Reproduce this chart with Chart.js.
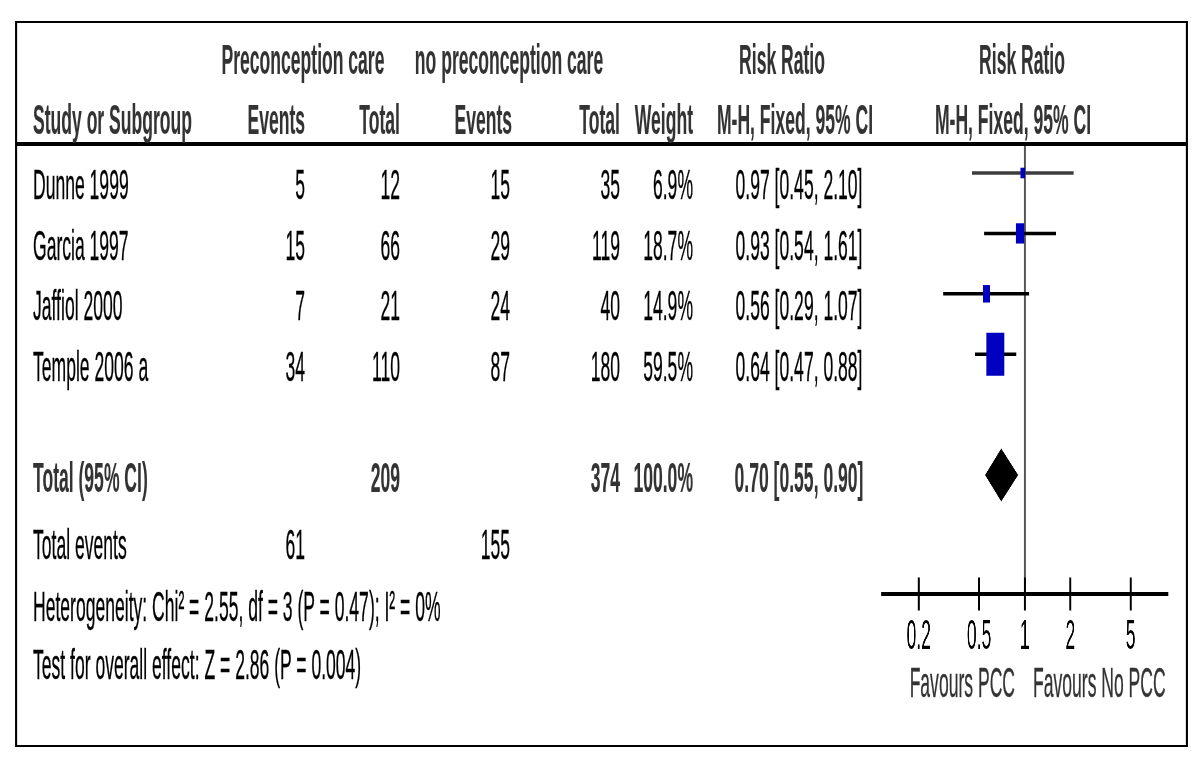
<!DOCTYPE html>
<html><head><meta charset="utf-8">
<script src="https://cdn.jsdelivr.net/npm/chart.js@4.4.1/dist/chart.umd.min.js"></script>
<style>
html,body{margin:0;padding:0;background:#fff;width:1200px;height:768px;overflow:hidden;}
#stage{position:absolute;left:0;top:0;width:2880px;height:768px;transform-origin:0 0;transform:scaleX(0.418);font-family:"Liberation Sans",Arial,sans-serif;}
.t{position:absolute;white-space:nowrap;font-size:42px;line-height:42px;color:#000;-webkit-text-stroke:0.35px currentColor;}
.b{font-weight:bold;color:#333;-webkit-text-stroke:0.15px currentColor;}
.ln{position:absolute;background:#000;}
#c{position:absolute;}
</style></head><body><div id="stage"><canvas id="c"></canvas></div>
<script>
// ---------- data ----------
const studies = ['Dunne 1999', 'Garcia 1997', 'Jaffiol 2000', 'Temple 2006 a'];
const pccEvents = [5, 15, 7, 34];
const pccTotal = [12, 66, 21, 110];
const noEvents = [15, 29, 24, 87];
const noTotal = [35, 119, 40, 180];
const weights = [6.9, 18.7, 14.9, 59.5];
const rr = [0.97, 0.93, 0.56, 0.64];
const rrLow = [0.45, 0.54, 0.29, 0.47];
const rrHigh = [2.10, 1.61, 1.07, 0.88];
const totalLabel = 'Total (95% CI)';
const totalN = [209, 374];
const totalWeight = 100.0;
const pooled = [0.70, 0.55, 0.90];
const totalEvents = [61, 155];
const heterogeneity = 'Heterogeneity: Chi² = 2.55, df = 3 (P = 0.47); I² = 0%';
const overallTest = 'Test for overall effect: Z = 2.86 (P = 0.004)';
const tickValues = [0.2, 0.5, 1, 2, 5];
const favours = ['Favours PCC', 'Favours No PCC'];
const groupHeaders = ['Preconception care', 'no preconception care', 'Risk Ratio', 'Risk Ratio'];
const colHeaders = ['Study or Subgroup', 'Events', 'Total', 'Events', 'Total', 'Weight', 'M-H, Fixed, 95% CI', 'M-H, Fixed, 95% CI'];

// ---------- layout ----------
const SX = 0.418;                 // horizontal compression of the whole figure
const FS = 42;                    // font size (px, before compression)
const stage = document.getElementById('stage');
const ROW0 = 173, ROWH = 60.4;    // marker row geometry (px)
const PLOT_TOP = 146, AXIS_Y = 594, CANVAS_H = 600;
const X_L = 881, X_R = 1168;      // axis extent (px)
const Y_MIN = (PLOT_TOP - ROW0) / ROWH, Y_MAX = (AXIS_Y - ROW0) / ROWH;
const TOTAL_ROW = 5;

function txt(s, x, y, align, bold, color) {
  const d = document.createElement('div');
  d.className = 't' + (bold ? ' b' : '');
  d.textContent = s;
  d.style.left = (x / SX) + 'px';
  d.style.top = (y - 0.49 * FS) + 'px';
  d.style.transform = 'translateX(' + (align === 'right' ? '-100%' : align === 'center' ? '-50%' : '0') + ')';
  if (color) d.style.color = color;
  stage.appendChild(d);
}
function line(x1, y, x2, h) {
  const d = document.createElement('div');
  d.className = 'ln';
  d.style.left = (x1 / SX) + 'px'; d.style.top = y + 'px';
  d.style.width = ((x2 - x1) / SX) + 'px'; d.style.height = h + 'px';
  stage.appendChild(d);
}
// frame
line(16, 21, 1188, 2);
line(16, 745, 1188, 2);
line(15, 21, 17, 726);
line(1186, 21, 1188, 726);
line(16, 142, 1188, 3.5);

// headers
txt(groupHeaders[0], 303, 60, 'center', true);
txt(groupHeaders[1], 509, 60, 'center', true);
txt(groupHeaders[2], 782, 60, 'center', true);
txt(groupHeaders[3], 1022, 60, 'center', true);
txt(colHeaders[0], 33, 120, 'left', true);
txt(colHeaders[1], 305, 120, 'right', true);
txt(colHeaders[2], 400, 120, 'right', true);
txt(colHeaders[3], 512, 120, 'right', true);
txt(colHeaders[4], 620, 120, 'right', true);
txt(colHeaders[5], 693, 120, 'right', true);
txt(colHeaders[6], 795, 120, 'center', true);
txt(colHeaders[7], 1013, 120, 'center', true);

// study rows
studies.forEach((s, i) => {
  const y = ROW0 + ROWH * i + 12;
  txt(s, 33, y, 'left');
  txt(String(pccEvents[i]), 305, y, 'right');
  txt(String(pccTotal[i]), 400, y, 'right');
  txt(String(noEvents[i]), 510, y, 'right');
  txt(String(noTotal[i]), 620, y, 'right');
  txt(weights[i].toFixed(1) + '%', 693, y, 'right');
  txt(rr[i].toFixed(2) + ' [' + rrLow[i].toFixed(2) + ', ' + rrHigh[i].toFixed(2) + ']', 799, y, 'center');
});
// total row
const ty = 478;
txt(totalLabel, 33, ty, 'left', true);
txt(String(totalN[0]), 400, ty, 'right', true);
txt(String(totalN[1]), 620, ty, 'right', true);
txt(totalWeight.toFixed(1) + '%', 693, ty, 'right', true);
txt(pooled[0].toFixed(2) + ' [' + pooled[1].toFixed(2) + ', ' + pooled[2].toFixed(2) + ']', 799, ty, 'center', true);
txt('Total events', 33, 545, 'left');
txt(String(totalEvents[0]), 305, 545, 'right');
txt(String(totalEvents[1]), 510, 545, 'right');
txt(heterogeneity, 33, 607, 'left');
txt(overallTest, 33, 665, 'left');
txt(favours[0], 1015, 683, 'right', false, '#333');
txt(favours[1], 1033, 683, 'left', false, '#333');

// ---------- chart ----------
const cv = document.getElementById('c');
const CW = Math.round((X_R - X_L) / SX);
cv.width = CW; cv.height = CANVAS_H;
cv.style.left = (X_L / SX) + 'px'; cv.style.top = PLOT_TOP + 'px';
cv.style.width = CW + 'px'; cv.style.height = CANVAS_H + 'px';

const maxW = Math.max(...weights);
const boxSide = weights.map(w => 43 * Math.pow(w / maxW, 0.65));

const datasets = [];
// pooled diamond
const h = 0.43;
datasets.push({
  data: [{x: pooled[1], y: TOTAL_ROW}, {x: pooled[0], y: TOTAL_ROW - h}, {x: pooled[2], y: TOTAL_ROW}, {x: pooled[0], y: TOTAL_ROW + h}, {x: pooled[1], y: TOTAL_ROW}],
  showLine: true, fill: 'shape', backgroundColor: '#000', borderColor: '#000', borderWidth: 1, pointRadius: 0, clip: false
});
// study boxes
datasets.push({
  data: rr.map((v, i) => ({x: v, y: i})),
  pointStyle: 'rect', pointRadius: boxSide.map(s => s / Math.SQRT2),
  backgroundColor: '#0000c0', borderWidth: 0, showLine: false, clip: false
});
// CI lines
studies.forEach((s, i) => {
  datasets.push({
    data: [{x: rrLow[i], y: i}, {x: rrHigh[i], y: i}],
    showLine: true, borderColor: i === 0 ? '#3c3c3c' : '#000', borderWidth: 3.5, pointRadius: 0, clip: false
  });
});
// axis tick marks
datasets.push({
  data: tickValues.map(v => ({x: v, y: Y_MAX})),
  pointStyle: 'line', rotation: 90, pointRadius: 16.5, borderColor: '#000', borderWidth: 4.8, showLine: false, clip: false
});
// line of no effect
datasets.push({
  data: [{x: 1, y: Y_MIN}, {x: 1, y: Y_MAX}],
  showLine: true, borderColor: '#555', borderWidth: 4.8, pointRadius: 0, clip: false
});

new Chart(cv, {
  type: 'scatter',
  data: {datasets},
  options: {
    responsive: false, animation: false, events: [],
    layout: {padding: 0, autoPadding: false},
    plugins: {legend: {display: false}, tooltip: {enabled: false}},
    scales: {
      x: {
        type: 'logarithmic', min: 0.113, max: 8.85, position: 'bottom',
        border: {display: true, color: '#000', width: 4},
        grid: {display: false, drawTicks: false},
        afterBuildTicks: sc => { sc.ticks = tickValues.map(v => ({value: v})); },
        afterFit: sc => { sc.height = CANVAS_H - (AXIS_Y - PLOT_TOP); },
        ticks: {autoSkip: false, maxRotation: 0, padding: 18, color: '#000',
          font: {family: '"Liberation Sans", Arial, sans-serif', size: FS},
          callback: v => String(v)}
      },
      y: {type: 'linear', min: Y_MIN, max: Y_MAX, reverse: true, display: false}
    }
  }
});
</script></body></html>
